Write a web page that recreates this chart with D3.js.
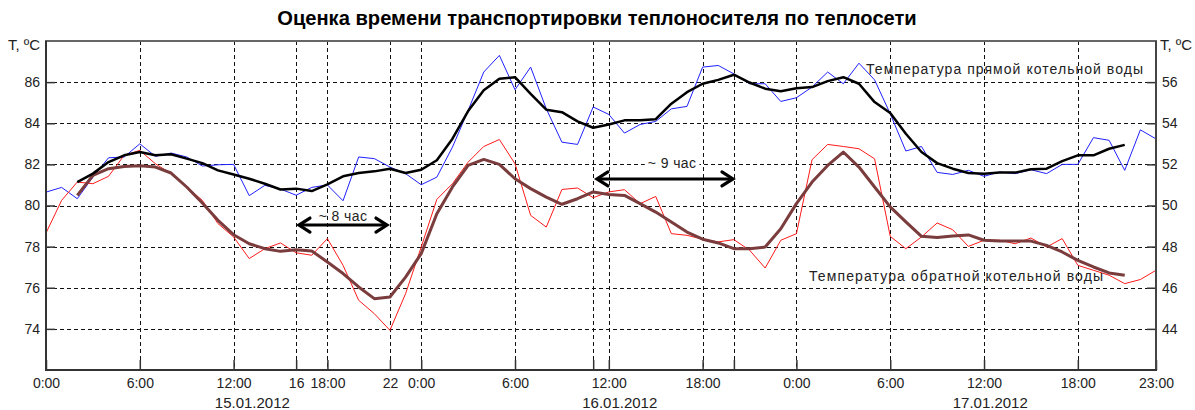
<!DOCTYPE html>
<html><head><meta charset="utf-8">
<script src="https://cdn.jsdelivr.net/npm/d3@7/dist/d3.min.js"></script>
<style>body{margin:0;background:#fff}svg{display:block}text{font-family:"Liberation Sans",Arial,sans-serif}</style>
</head><body><svg id="c" width="1195" height="410"></svg>
<script>
const hours = [0,1,2,3,4,5,6,7,8,9,10,11,12,13,14,15,16,17,18,19,20,21,22,23,24,25,26,27,28,29,30,31,32,33,34,35,36,37,38,39,40,41,42,43,44,45,46,47,48,49,50,51,52,53,54,55,56,57,58,59,60,61,62,63,64,65,66,67,68,69,70,71];
const smoothHours = [2,3,4,5,6,7,8,9,10,11,12,13,14,15,16,17,18,19,20,21,22,23,24,25,26,27,28,29,30,31,32,33,34,35,36,37,38,39,40,41,42,43,44,45,46,47,48,49,50,51,52,53,54,55,56,57,58,59,60,61,62,63,64,65,66,67,68,69];
const supplyRaw = [80.65,80.88,80.33,81.38,82.32,82.36,83.0,82.39,82.55,82.36,81.92,81.98,82.0,80.48,80.98,80.8,80.5,80.88,81.0,80.23,82.36,82.28,81.87,81.55,81.01,81.38,82.84,84.62,86.49,87.3,85.63,86.73,84.7,83.08,82.97,84.79,84.43,83.52,83.94,84.09,84.7,84.82,86.73,86.81,86.4,85.92,85.92,85.06,85.24,85.76,86.49,85.92,86.92,86.11,84.46,82.65,82.87,81.61,81.51,81.71,81.42,81.63,81.55,81.74,81.55,82.0,82.0,83.3,83.17,81.71,83.68,83.24];
const returnRaw = [78.66,80.25,81.14,81.06,81.42,82.44,82.68,82.03,81.55,80.9,80.25,79.12,78.47,77.42,77.9,78.18,77.7,77.58,78.39,77.09,75.39,74.74,73.93,75.71,77.98,80.3,81.06,82.11,82.87,83.21,82.03,79.52,78.95,80.78,80.85,80.38,80.66,80.77,80.09,80.44,78.63,78.55,78.36,78.23,78.34,77.83,76.96,78.31,78.63,82.23,82.97,82.87,82.76,82.27,78.5,77.9,78.47,79.15,78.82,78.01,78.31,78.31,78.14,78.42,77.98,78.39,77.09,76.85,76.61,76.2,76.4,76.85];
const supplySmooth = [81.14,81.55,82.11,82.44,82.6,82.44,82.49,82.28,82.06,81.71,81.51,81.3,81.06,80.78,80.82,80.7,81.03,81.42,81.58,81.66,81.79,81.58,81.74,82.2,83.25,84.59,85.6,86.16,86.24,85.43,84.66,84.54,84.09,83.78,83.94,84.14,84.14,84.2,84.95,85.51,85.92,86.11,86.36,85.98,85.68,85.56,85.7,85.76,86.05,86.24,85.92,85.03,84.5,83.49,82.6,82.06,81.79,81.58,81.55,81.6,81.6,81.76,81.79,82.16,82.44,82.44,82.76,82.95];
const returnSmooth = [80.49,81.46,81.79,81.9,81.93,81.87,81.58,80.9,80.12,79.28,78.58,78.14,77.9,77.77,77.85,77.79,77.25,76.69,76.04,75.47,75.55,76.52,77.66,79.6,80.9,81.95,82.24,82.0,81.3,80.82,80.41,80.06,80.33,80.66,80.54,80.49,80.09,79.68,79.2,78.71,78.36,78.18,77.9,77.9,77.98,78.87,80.09,81.14,81.95,82.6,81.87,80.9,79.93,79.2,78.5,78.44,78.52,78.57,78.31,78.27,78.27,78.27,78.06,77.74,77.33,77.01,76.72,76.61];
const xTickHours = [0,6,12,16,18,22,24,30,35,36,42,44,48,54,60,66,71];
const xTickLabels = ["0:00","6:00","12:00","16","18:00","22","0:00","6:00","","12:00","18:00","","0:00","6:00","12:00","18:00","23:00"];
const dateLabels = ["15.01.2012","16.01.2012","17.01.2012"];
const dateLabelHours = [13.2,36.7,60.4];
const leftTicks = [74,76,78,80,82,84,86];
const rightTicks = [44,46,48,50,52,54,56];
const title = "Оценка времени транспортировки теплоносителя по теплосети";
const axisTitle = "T, ºC";
const seriesLabels = ["Температура прямой котельной воды","Температура обратной котельной воды"];
const lagLabels = ["~ 8 час","~ 9 час"];
const lagFrom = [16.18,35.24], lagTo = [21.81,43.94], lagLevel = [79.05,81.29], lagTextLevel = [79.25,81.8], lagTextHour = [19.0,40.05];

const W=1195,H=410, L=46,R=1156,T=41,B=370;
const svg=d3.select("#c");
svg.append("rect").attr("width",W).attr("height",H).attr("fill","#fff");
const x=d3.scaleLinear().domain([0,71]).range([L,R]);
const yL=d3.scaleLinear().domain([72,88]).range([B,T]);
const yR=d3.scaleLinear().domain([42,58]).range([B,T]);

const g=svg.append("g");
g.selectAll("line.h").data(leftTicks).join("line").attr("x1",L).attr("x2",R)
 .attr("y1",d=>Math.round(yL(d))+0.5).attr("y2",d=>Math.round(yL(d))+0.5)
 .attr("stroke","#111").attr("stroke-dasharray","4,3");
g.selectAll("line.v").data(xTickHours.filter(h=>h>0&&h<71)).join("line")
 .attr("x1",d=>Math.round(x(d))+0.5).attr("x2",d=>Math.round(x(d))+0.5).attr("y1",T).attr("y2",B)
 .attr("stroke","#111").attr("stroke-dasharray","4,3");

const lineOf=(xs,ys)=>d3.line().x((d,i)=>x(xs[i])).y(d=>yL(d))(ys);
svg.append("path").attr("d",lineOf(hours,supplyRaw)).attr("fill","none").attr("stroke","#2020ff").attr("stroke-width",1);
svg.append("path").attr("d",lineOf(hours,returnRaw)).attr("fill","none").attr("stroke","#ff1a1a").attr("stroke-width",1);
svg.append("path").attr("d",lineOf(smoothHours,returnSmooth)).attr("fill","none").attr("stroke","#7a3c3c").attr("stroke-width",3).attr("stroke-linejoin","round");
svg.append("path").attr("d",lineOf(smoothHours,supplySmooth)).attr("fill","none").attr("stroke","#000").attr("stroke-width",2.5).attr("stroke-linejoin","round");

const axL=d3.axisLeft(yL).tickValues(leftTicks).tickSize(-9).tickPadding(6).tickFormat(d3.format("d"));
const gl=svg.append("g").attr("transform",`translate(${L},0)`).call(axL);
const axR=d3.axisRight(yR).tickValues(rightTicks).tickSize(-9).tickPadding(6).tickFormat(d3.format("d"));
const gr=svg.append("g").attr("transform",`translate(${R},0)`).call(axR);
const axB=d3.axisBottom(x).tickValues(xTickHours).tickSize(-10).tickPadding(8).tickFormat((d,i)=>xTickLabels[i]);
const gb=svg.append("g").attr("transform",`translate(0,${B})`).call(axB);
[gl,gr,gb].forEach(a=>{a.select(".domain").remove();a.selectAll(".tick line").attr("stroke","#333").attr("stroke-width",1.5);
 a.selectAll("text").attr("font-family","Liberation Sans, Arial, sans-serif").attr("font-size",14).attr("fill","#222");});

svg.append("line").attr("x1",L-1).attr("x2",R+1).attr("y1",T).attr("y2",T).attr("stroke","#666").attr("stroke-width",2);
svg.append("line").attr("x1",R).attr("x2",R).attr("y1",T).attr("y2",B).attr("stroke","#444").attr("stroke-width",2);
svg.append("line").attr("x1",L).attr("x2",L).attr("y1",T).attr("y2",B+1).attr("stroke","#333").attr("stroke-width",2);
svg.append("line").attr("x1",L-1).attr("x2",R+1).attr("y1",B).attr("y2",B).attr("stroke","#333").attr("stroke-width",2);

svg.selectAll("text.date").data(dateLabels).join("text").attr("x",(d,i)=>x(dateLabelHours[i])).attr("y",408)
 .attr("text-anchor","middle").attr("font-size",15).attr("fill","#222").text(d=>d);

svg.append("text").attr("x",8).attr("y",50).attr("font-size",15).attr("fill","#222").text(axisTitle);
svg.append("text").attr("x",1160).attr("y",50).attr("font-size",15).attr("fill","#222").text(axisTitle);

const tt=svg.append("text").attr("x",597).attr("y",25).attr("text-anchor","middle").attr("font-weight","bold").attr("font-size",16).attr("fill","#000").text(title);
const tw=tt.node().getComputedTextLength(); tt.attr("font-size",16*640/tw);

const slx=[866,809], sly=[73.5,281], slw=[277,294];
seriesLabels.forEach((s,i)=>{
 const t=svg.append("text").attr("x",slx[i]).attr("y",sly[i]).attr("font-size",14).attr("fill","#222").text(s);
 const w=t.node().getComputedTextLength(); t.attr("letter-spacing",(slw[i]-w)/(s.length-1));
});

lagLabels.forEach((s,i)=>{
 const ya=yL(lagLevel[i]), x1=x(lagFrom[i]), x2=x(lagTo[i]);
 const t=svg.append("text").attr("x",x(lagTextHour[i])).attr("y",yL(lagTextLevel[i])).attr("text-anchor","middle").attr("font-size",14).attr("letter-spacing",0.4).attr("fill","#222").text(s);
 if(i===1){const bb=t.node().getBBox(); svg.insert("rect",()=>t.node()).attr("x",bb.x-3).attr("y",bb.y).attr("width",bb.width+6).attr("height",bb.height).attr("fill","#fff");}
 svg.append("line").attr("x1",x1+2).attr("x2",x2-2).attr("y1",ya).attr("y2",ya).attr("stroke","#000").attr("stroke-width",3);
 const p=`M${x1+11},${ya-7}L${x1},${ya}L${x1+11},${ya+7}M${x2-11},${ya-7}L${x2},${ya}L${x2-11},${ya+7}`;
 svg.append("path").attr("d",p).attr("fill","none").attr("stroke","#000").attr("stroke-width",3.2).attr("stroke-linejoin","miter").attr("stroke-linecap","round");
});
</script></body></html>
